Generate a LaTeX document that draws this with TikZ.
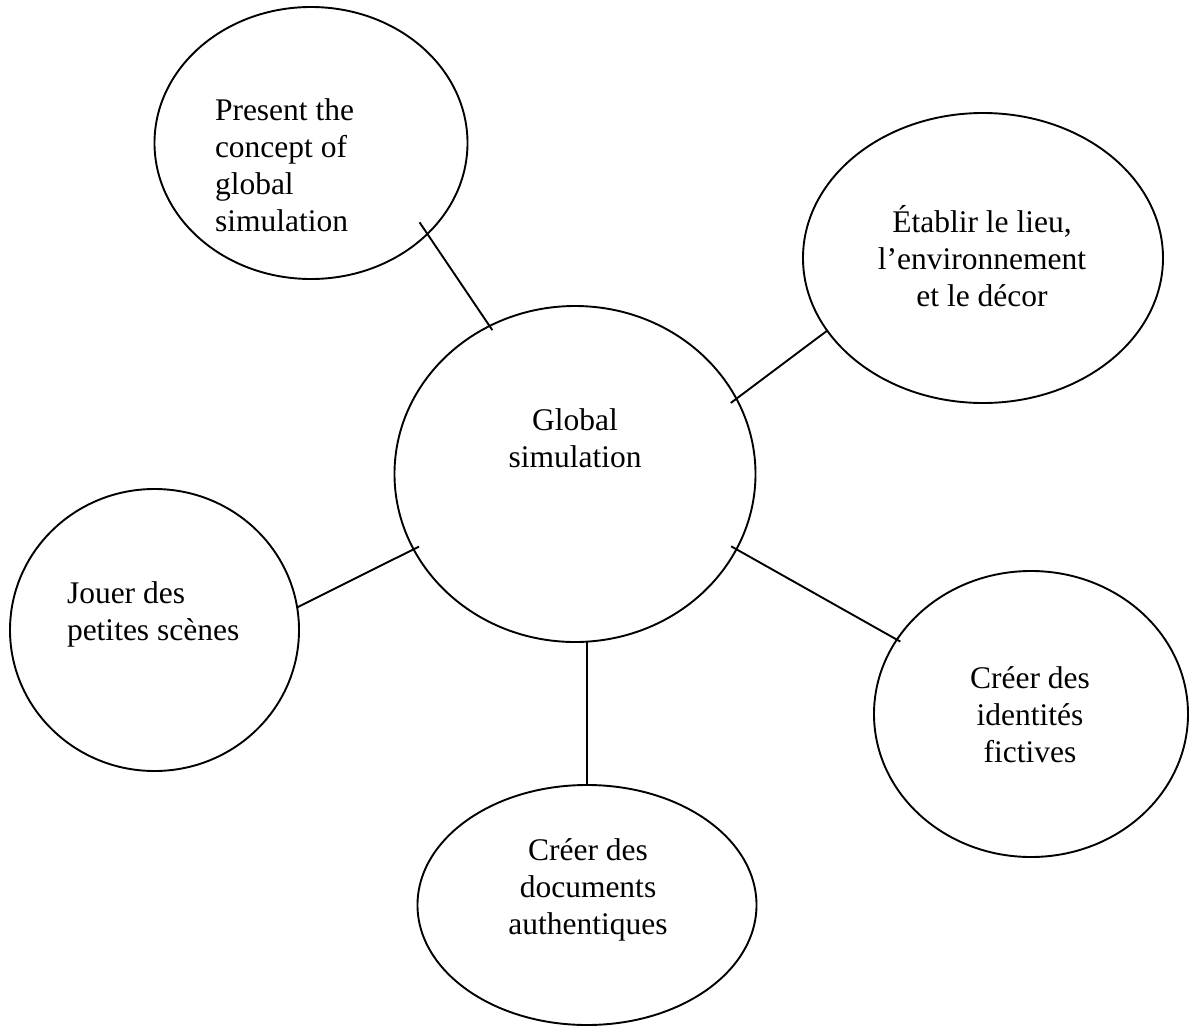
\documentclass[tikz,border=0pt]{standalone}
\usepackage{fontspec}
\setmainfont{Liberation Serif}
\usetikzlibrary{shapes.geometric}
\begin{document}
\begin{tikzpicture}[x=1bp,y=-1bp,
  bubble/.style={draw,ellipse,line width=1.9bp,inner sep=0pt,outer sep=0pt},
  txt/.style={inner sep=0pt,outer sep=0pt,font=\fontsize{31.5bp}{37bp}\selectfont},
  link/.style={line width=1.9bp}]
\useasboundingbox (0,0) rectangle (1189,1026);
% ellipses
\node[bubble,minimum width=313bp,minimum height=272bp] (e1) at (311,143) {};
\node[bubble,minimum width=360bp,minimum height=290bp] (e2) at (983,258) {};
\node[bubble,minimum width=361bp,minimum height=336bp] (c)  at (575,474) {};
\node[bubble,minimum width=289bp,minimum height=282bp] (e4) at (154.5,630) {};
\node[bubble,minimum width=314bp,minimum height=286bp] (e5) at (1031,714) {};
\node[bubble,minimum width=339bp,minimum height=240bp] (e6) at (587,905) {};
% texts (anchor = baseline of the last line)
\node[txt,align=left,anchor=base west] (t1) at (215,231) {Present the\\concept of\\global\\simulation};
\node[txt,align=center,anchor=base] (t2) at (982,306) {Établir le lieu,\\l’environnement\\et le décor};
\node[txt,align=center,anchor=base] (t3) at (575,467) {Global\\simulation};
\node[txt,align=left,anchor=base west] (t4) at (67,640) {Jouer des\\petites scènes};
\node[txt,align=center,anchor=base] (t5) at (1030,762) {Créer des\\identités\\fictives};
\node[txt,align=center,anchor=base] (t6) at (588,934) {Créer des\\documents\\authentiques};
% connectors
\draw[link,shorten <=-14bp,shorten >=-5bp] (e1.-38) -- (c.120.6);
\draw[link,shorten >=-7bp] (e2.205.4) -- (c.25.4);
\draw[link,shorten <=-6bp] (c.205.1) -- (e4.9.1);
\draw[link,shorten <=-6bp,shorten >=-4bp] (c.-25.4) -- (e5.151.8);
\draw[link] (c.south -| e6.north) -- (e6.north);
\end{tikzpicture}
\end{document}
